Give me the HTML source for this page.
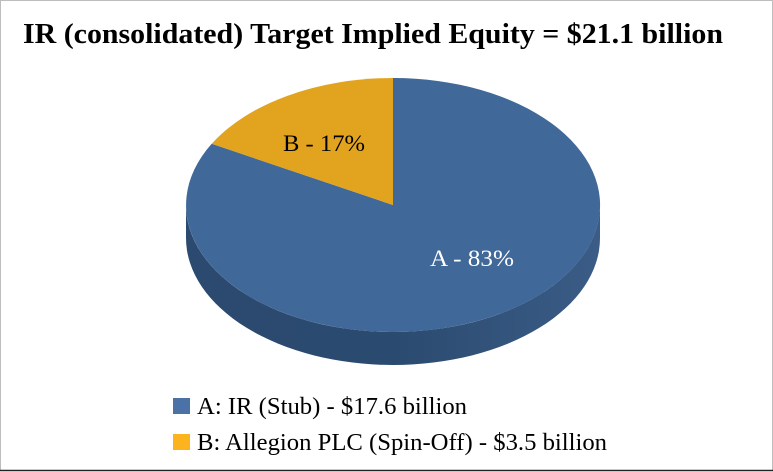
<!DOCTYPE html>
<html><head><style>
html,body{margin:0;padding:0;background:#fff;}
svg{display:block;}
text{font-family:"Liberation Serif",serif;}
</style></head><body>
<svg width="773" height="472" viewBox="0 0 773 472">
<defs>
<linearGradient id="side" x1="0" x2="1" y1="0" y2="0">
<stop offset="0" stop-color="#2c4a70"/>
<stop offset="0.5" stop-color="#2b4a6f"/>
<stop offset="1" stop-color="#3a5c86"/>
</linearGradient>
</defs>
<rect x="0.5" y="0.5" width="772" height="470" fill="#fff" stroke="#bdbdbd"/>
<line x1="0" y1="470.5" x2="773" y2="470.5" stroke="#222" stroke-width="1.5"/>
<text x="23" y="43" font-size="28" font-weight="bold" fill="#000" textLength="700" lengthAdjust="spacingAndGlyphs">IR (consolidated) Target Implied Equity = $21.1 billion</text>
<path d="M186,205 A207,127 0 0 0 600,205 L600,238 A207,127 0 0 1 186,238 Z" fill="url(#side)"/>
<path d="M393,205 L393,78 A207,127 0 1 1 211.7,143.8 Z" fill="#406898"/>
<path d="M393,205 L211.7,143.8 A207,127 0 0 1 393,78 Z" fill="#e2a41e"/>
<text x="283" y="151" font-size="23" fill="#000" textLength="82" lengthAdjust="spacingAndGlyphs">B - 17%</text>
<text x="430" y="266" font-size="23" fill="#fff" textLength="84" lengthAdjust="spacingAndGlyphs">A - 83%</text>
<rect x="173" y="398" width="17" height="16" fill="#4a72a6"/>
<text x="197" y="414" font-size="24" fill="#000" textLength="270" lengthAdjust="spacingAndGlyphs">A: IR (Stub) - $17.6 billion</text>
<rect x="173" y="434" width="17" height="16" fill="#fbb41e"/>
<text x="197" y="450" font-size="24" fill="#000" textLength="410" lengthAdjust="spacingAndGlyphs">B: Allegion PLC (Spin-Off) - $3.5 billion</text>
</svg>
</body></html>
